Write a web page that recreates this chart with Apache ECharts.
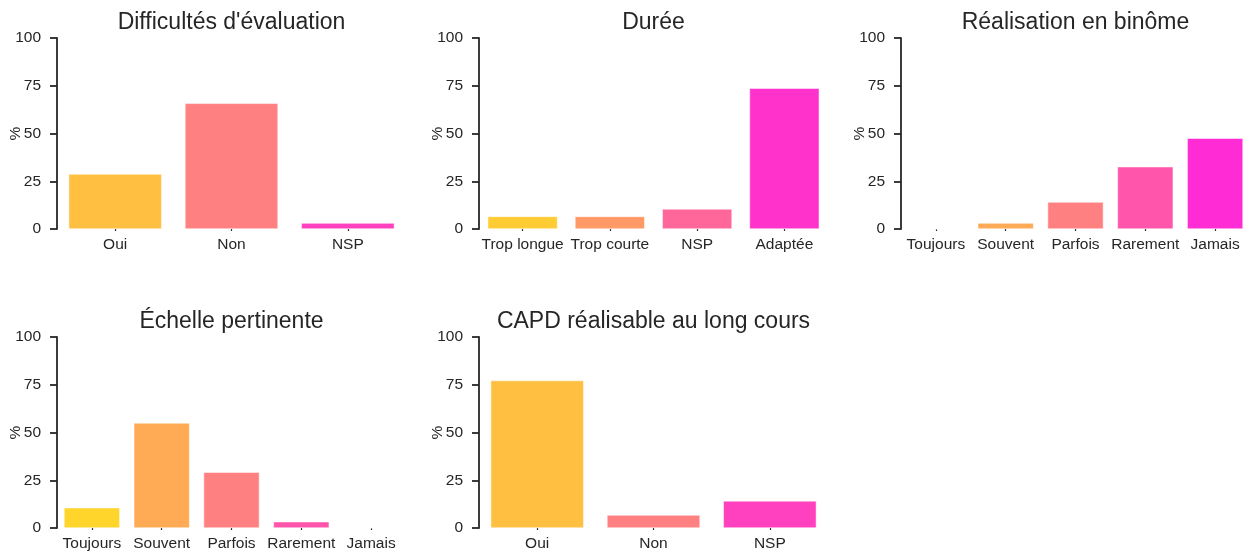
<!DOCTYPE html>
<html>
<head>
<meta charset="utf-8">
<script src="https://cdn.jsdelivr.net/npm/echarts@6/dist/echarts.min.js"></script>
<style>
html,body{margin:0;padding:0;background:#fff;}
#chart{width:1249px;height:553px;}
</style>
</head>
<body>
<div id="chart"></div>
<script>
// ---- Data ----
const titles = ["Difficultés d'évaluation", "Durée", "Réalisation en binôme", "Échelle pertinente", "CAPD réalisable au long cours"];
const catsDifficultes = ["Oui", "Non", "NSP"];
const valsDifficultes = [28.8, 65.8, 3.1];
const catsDuree = ["Trop longue", "Trop courte", "NSP", "Adaptée"];
const valsDuree = [6.6, 6.6, 10.5, 73.7];
const catsBinome = ["Toujours", "Souvent", "Parfois", "Rarement", "Jamais"];
const valsBinome = [0, 3.1, 14.1, 32.6, 47.5];
const catsEchelle = ["Toujours", "Souvent", "Parfois", "Rarement", "Jamais"];
const valsEchelle = [10.6, 55.0, 29.2, 3.3, 0];
const catsCapd = ["Oui", "Non", "NSP"];
const valsCapd = [77.2, 6.8, 14.2];
const yTicks = [0, 25, 50, 75, 100];

// palettes (spring_r sampled)
const pal3 = ["#FFBF40", "#FF8080", "#FF40BF"];
const pal4 = ["#FFCC33", "#FF9966", "#FF6699", "#FF33CC"];
const pal5 = ["#FFD42B", "#FFAA55", "#FF8080", "#FF55AA", "#FF2BD4"];

const panels = [
  {cats: catsDifficultes, vals: valsDifficultes, pal: pal3},
  {cats: catsDuree, vals: valsDuree, pal: pal4},
  {cats: catsBinome, vals: valsBinome, pal: pal5},
  {cats: catsEchelle, vals: valsEchelle, pal: pal5},
  {cats: catsCapd, vals: valsCapd, pal: pal3}
];

// ---- Layout ----
const lefts = [57, 479, 901];
const tops = [38, 337];
const gw = 349, gh = 191;
const ink = "#262626";
const font = "'Liberation Sans', Arial, sans-serif";

const grids = [], xAxes = [], yAxes = [], series = [], titleArr = [];
panels.forEach((p, i) => {
  const col = i % 3, row = Math.floor(i / 3);
  grids.push({left: lefts[col], top: tops[row], width: gw, height: gh, containLabel: false, outerBoundsMode: 'none'});
  titleArr.push({
    text: titles[i], left: lefts[col] + gw / 2, top: tops[row] - 27, textAlign: 'center', padding: 0,
    textStyle: {fontFamily: font, fontSize: 23, fontWeight: 'normal', color: ink}
  });
  xAxes.push({
    type: 'category', gridIndex: i, data: p.cats,
    axisLine: {show: false},
    axisTick: {show: true, alignWithLabel: true, length: 2, lineStyle: {color: ink, width: 1.2}},
    axisLabel: {color: ink, fontFamily: font, fontSize: 15.5, margin: 8, interval: 0},
    splitLine: {show: false}
  });
  yAxes.push({
    type: 'value', gridIndex: i, min: yTicks[0], max: yTicks[yTicks.length - 1], interval: yTicks[1] - yTicks[0],
    name: '%', nameLocation: 'middle', nameGap: 33, nameRotate: 90, nameMoveOverlap: false,
    nameTextStyle: {color: ink, fontFamily: font, fontSize: 15.5},
    axisLine: {show: true, lineStyle: {color: ink, width: 1.8}},
    axisTick: {show: true, length: 7, lineStyle: {color: ink, width: 1.8}},
    axisLabel: {color: ink, fontFamily: font, fontSize: 15.5, margin: 16},
    splitLine: {show: false}
  });
  series.push({
    type: 'bar', xAxisIndex: i, yAxisIndex: i,
    barCategoryGap: '20%',
    data: p.vals.map((v, k) => ({value: v, itemStyle: {color: p.pal[k]}})),
    itemStyle: {borderColor: '#fff', borderWidth: 0.5},
    emphasis: {disabled: true},
    animation: false
  });
});

const chart = echarts.init(document.getElementById('chart'), null, {renderer: 'canvas'});
chart.setOption({
  animation: false,
  backgroundColor: '#fff',
  title: titleArr,
  grid: grids,
  xAxis: xAxes,
  yAxis: yAxes,
  series: series
});
</script>
</body>
</html>
